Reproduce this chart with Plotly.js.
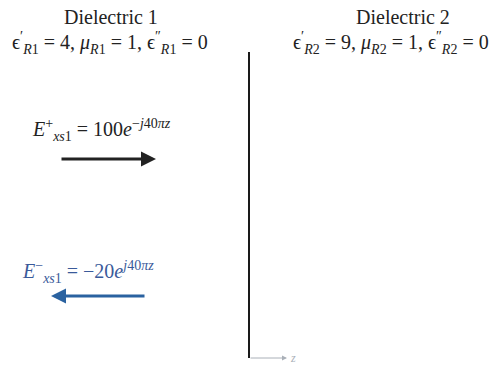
<!DOCTYPE html>
<html><head><meta charset="utf-8">
<script src="https://cdn.plot.ly/plotly-3.0.1.min.js"></script>
<style>html,body{margin:0;padding:0;background:#fff}</style>
</head><body><div id="plot" style="width:494px;height:373px"></div>
<script>
const headers = ["Dielectric 1", "Dielectric 2"];
const params = [
  "ϵ<sup>′</sup><sub><i>R</i>1</sub> = 4, <i>μ</i><sub><i>R</i>1</sub> = 1, ϵ<sup>″</sup><sub><i>R</i>1</sub> = 0",
  "ϵ<sup>′</sup><sub><i>R</i>2</sub> = 9, <i>μ</i><sub><i>R</i>2</sub> = 1, ϵ<sup>″</sup><sub><i>R</i>2</sub> = 0"
];
const waveLabels = [
  "<i>E</i><sup>+</sup><sub><i>xs</i>1</sub> = 100<i>e</i><sup>−<i>j</i>40<i>πz</i></sup>",
  "<i>E</i><sup>−</sup><sub><i>xs</i>1</sub> = −20<i>e</i><sup><i>j</i>40<i>πz</i></sup>"
];
const boundaryX = [249, 249];
const boundaryY = [52, 358];

const serif = "Liberation Serif, Times New Roman, serif";
const ann = [];
ann.push({x:111, y:17, text:headers[0], showarrow:false, font:{family:serif,size:20,color:"#222"}});
ann.push({x:110, y:43, text:params[0], showarrow:false, font:{family:serif,size:20,color:"#222"}});
ann.push({x:403, y:17, text:headers[1], showarrow:false, font:{family:serif,size:20,color:"#222"}});
ann.push({x:391, y:43, text:params[1], showarrow:false, font:{family:serif,size:20,color:"#222"}});
ann.push({x:101, y:130, text:waveLabels[0], showarrow:false, font:{family:serif,size:20,color:"#222"}});
ann.push({x:88, y:272, text:waveLabels[1], showarrow:false, font:{family:serif,size:20,color:"#3a5a9a"}});
// forward arrow
ann.push({x:156, y:159, ax:60, ay:159, axref:"x", ayref:"y", xref:"x", yref:"y", text:"", showarrow:true,
  arrowhead:2, arrowsize:1, arrowwidth:3, arrowcolor:"#222"});
// reflected arrow
ann.push({x:51, y:296, ax:146, ay:296, axref:"x", ayref:"y", xref:"x", yref:"y", text:"", showarrow:true,
  arrowhead:2, arrowsize:1, arrowwidth:3, arrowcolor:"#2a62a0"});
// z axis arrow
ann.push({x:287, y:358, ax:249, ay:358, axref:"x", ayref:"y", xref:"x", yref:"y", text:"", showarrow:true,
  arrowhead:2, arrowsize:1, arrowwidth:1, arrowcolor:"#aab0b8"});
ann.push({x:293, y:358, text:"<i>z</i>", showarrow:false, font:{family:serif,size:12,color:"#aab0b8"}});

const traces = [{x:boundaryX, y:boundaryY, mode:"lines", line:{color:"#1a1a1a", width:2}, hoverinfo:"skip"}];
const layout = {
  width:494, height:373, margin:{l:0,r:0,t:0,b:0},
  paper_bgcolor:"#fff", plot_bgcolor:"#fff", showlegend:false,
  xaxis:{range:[0,494], visible:false, fixedrange:true},
  yaxis:{range:[373,0], visible:false, fixedrange:true},
  annotations: ann
};
Plotly.newPlot("plot", traces, layout, {staticPlot:true});
</script></body></html>
